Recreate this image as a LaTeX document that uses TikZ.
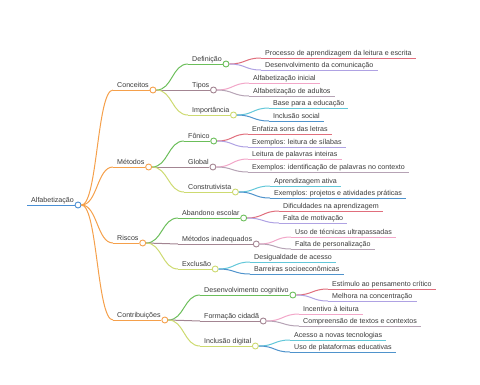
\documentclass[tikz,border=0pt]{standalone}
\usepackage{fontspec}
\setmainfont{Liberation Sans}
\usetikzlibrary{positioning}
\definecolor{rootBlue}{HTML}{4A8FD4}
\definecolor{brOrange}{HTML}{F5A04B}
\definecolor{kGreen}{HTML}{6BBE5A}
\definecolor{kMauve}{HTML}{A38592}
\definecolor{kYellow}{HTML}{CDDA70}
\definecolor{lRed}{HTML}{E06E7C}
\definecolor{lLavender}{HTML}{AFA2E3}
\definecolor{lPink}{HTML}{F2A6C8}
\definecolor{lGray}{HTML}{B6A3B5}
\definecolor{lCyan}{HTML}{62C7D9}
\definecolor{lBlue}{HTML}{4F93CC}
\definecolor{txtGray}{HTML}{3A3A3A}
\tikzset{
  lbl/.style={anchor=south west, inner xsep=4pt, inner ysep=1pt, text depth=1.5pt,
              font=\fontsize{7.1}{8.5}\selectfont, text=txtGray},
  dot/.style={circle, draw=#1, fill=white, line width=0.9pt, minimum size=6pt, inner sep=0pt},
  conn/.style={draw=#1, line width=1pt},
}
% topic with underline and end dot
\newcommand{\mmhub}[4]{%
  \node[lbl] (#1) at (#2) {#4};
  \node[dot=#3] (#1C) at (#1.south east) {};
  \draw[conn=#3] (#1.south west) -- (#1C.west);}
% leaf with underline only
\newcommand{\mmleaf}[4]{%
  \node[lbl] (#1) at (#2) {#4};
  \draw[conn=#3] (#1.south west) -- (#1.south east);}
% curved connector from a dot to a child
\newcommand{\mmlink}[3]{%
  \draw[conn=#3] (#1C.east) .. controls +(16,0) and +(-16,0) .. (#2.south west);}

\begin{document}
\begin{tikzpicture}[x=1pt, y=-1pt]
  \useasboundingbox (0,0) rectangle (480,384);

  % raiz
  \mmhub{alf}{27,205}{rootBlue}{Alfabetização}

  % primeiro nivel
  \mmhub{conc}{113,90}{brOrange}{Conceitos}
  \mmhub{meto}{113,167}{brOrange}{Métodos}
  \mmhub{risc}{113,243}{brOrange}{Riscos}
  \mmhub{contr}{113,320}{brOrange}{Contribuições}
  \mmlink{alf}{conc}{brOrange}
  \mmlink{alf}{meto}{brOrange}
  \mmlink{alf}{risc}{brOrange}
  \mmlink{alf}{contr}{brOrange}

  % Conceitos
  \mmhub{defi}{188,64}{kGreen}{Definição}
  \mmhub{tipo}{188,90}{kMauve}{Tipos}
  \mmhub{impo}{188,115}{kYellow}{Importância}
  \mmlink{conc}{defi}{kGreen}
  \mmlink{conc}{tipo}{kMauve}
  \mmlink{conc}{impo}{kYellow}
  \mmleaf{proc}{261,58}{lRed}{Processo de aprendizagem da leitura e escrita}
  \mmleaf{desc}{261,70}{lLavender}{Desenvolvimento da comunicação}
  \mmleaf{ainic}{249,83}{lPink}{Alfabetização inicial}
  \mmleaf{aadul}{249,96}{lGray}{Alfabetização de adultos}
  \mmleaf{base}{269,108}{lCyan}{Base para a educação}
  \mmleaf{incs}{269,121}{lBlue}{Inclusão social}
  \mmlink{defi}{proc}{lRed}
  \mmlink{defi}{desc}{lLavender}
  \mmlink{tipo}{ainic}{lPink}
  \mmlink{tipo}{aadul}{lGray}
  \mmlink{impo}{base}{lCyan}
  \mmlink{impo}{incs}{lBlue}

  % Metodos
  \mmhub{foni}{184,141}{kGreen}{Fônico}
  \mmhub{glob}{184,167}{kMauve}{Global}
  \mmhub{cons}{184,192}{kYellow}{Construtivista}
  \mmlink{meto}{foni}{kGreen}
  \mmlink{meto}{glob}{kMauve}
  \mmlink{meto}{cons}{kYellow}
  \mmleaf{enfa}{248,134}{lRed}{Enfatiza sons das letras}
  \mmleaf{exsil}{248,147}{lLavender}{Exemplos: leitura de sílabas}
  \mmleaf{leit}{248,159}{lPink}{Leitura de palavras inteiras}
  \mmleaf{exid}{248,172}{lGray}{Exemplos: identificação de palavras no contexto}
  \mmleaf{apre}{270,186}{lCyan}{Aprendizagem ativa}
  \mmleaf{expr}{270,198}{lBlue}{Exemplos: projetos e atividades práticas}
  \mmlink{foni}{enfa}{lRed}
  \mmlink{foni}{exsil}{lLavender}
  \mmlink{glob}{leit}{lPink}
  \mmlink{glob}{exid}{lGray}
  \mmlink{cons}{apre}{lCyan}
  \mmlink{cons}{expr}{lBlue}

  % Riscos
  \mmhub{aban}{178,218}{kGreen}{Abandono escolar}
  \mmhub{minad}{178,244}{kMauve}{Métodos inadequados}
  \mmhub{excl}{178,269}{kYellow}{Exclusão}
  \mmlink{risc}{aban}{kGreen}
  \mmlink{risc}{minad}{kMauve}
  \mmlink{risc}{excl}{kYellow}
  \mmleaf{difi}{279,211}{lRed}{Dificuldades na aprendizagem}
  \mmleaf{falm}{279,223}{lLavender}{Falta de motivação}
  \mmleaf{usot}{291,237}{lPink}{Uso de técnicas ultrapassadas}
  \mmleaf{falp}{291,249}{lGray}{Falta de personalização}
  \mmleaf{desi}{250,262}{lCyan}{Desigualdade de acesso}
  \mmleaf{barr}{250,274}{lBlue}{Barreiras socioeconômicas}
  \mmlink{aban}{difi}{lRed}
  \mmlink{aban}{falm}{lLavender}
  \mmlink{minad}{usot}{lPink}
  \mmlink{minad}{falp}{lGray}
  \mmlink{excl}{desi}{lCyan}
  \mmlink{excl}{barr}{lBlue}

  % Contribuicoes
  \mmhub{dcog}{200,295}{kGreen}{Desenvolvimento cognitivo}
  \mmhub{fcid}{200,321}{kMauve}{Formação cidadã}
  \mmhub{idig}{200,346}{kYellow}{Inclusão digital}
  \mmlink{contr}{dcog}{kGreen}
  \mmlink{contr}{fcid}{kMauve}
  \mmlink{contr}{idig}{kYellow}
  \mmleaf{esti}{328,289}{lRed}{Estímulo ao pensamento crítico}
  \mmleaf{melh}{328,301}{lLavender}{Melhora na concentração}
  \mmleaf{ince}{299,314}{lPink}{Incentivo à leitura}
  \mmleaf{comp}{299,326}{lGray}{Compreensão de textos e contextos}
  \mmleaf{aces}{290,340}{lCyan}{Acesso a novas tecnologias}
  \mmleaf{usop}{290,352}{lBlue}{Uso de plataformas educativas}
  \mmlink{dcog}{esti}{lRed}
  \mmlink{dcog}{melh}{lLavender}
  \mmlink{fcid}{ince}{lPink}
  \mmlink{fcid}{comp}{lGray}
  \mmlink{idig}{aces}{lCyan}
  \mmlink{idig}{usop}{lBlue}
\end{tikzpicture}
\end{document}
